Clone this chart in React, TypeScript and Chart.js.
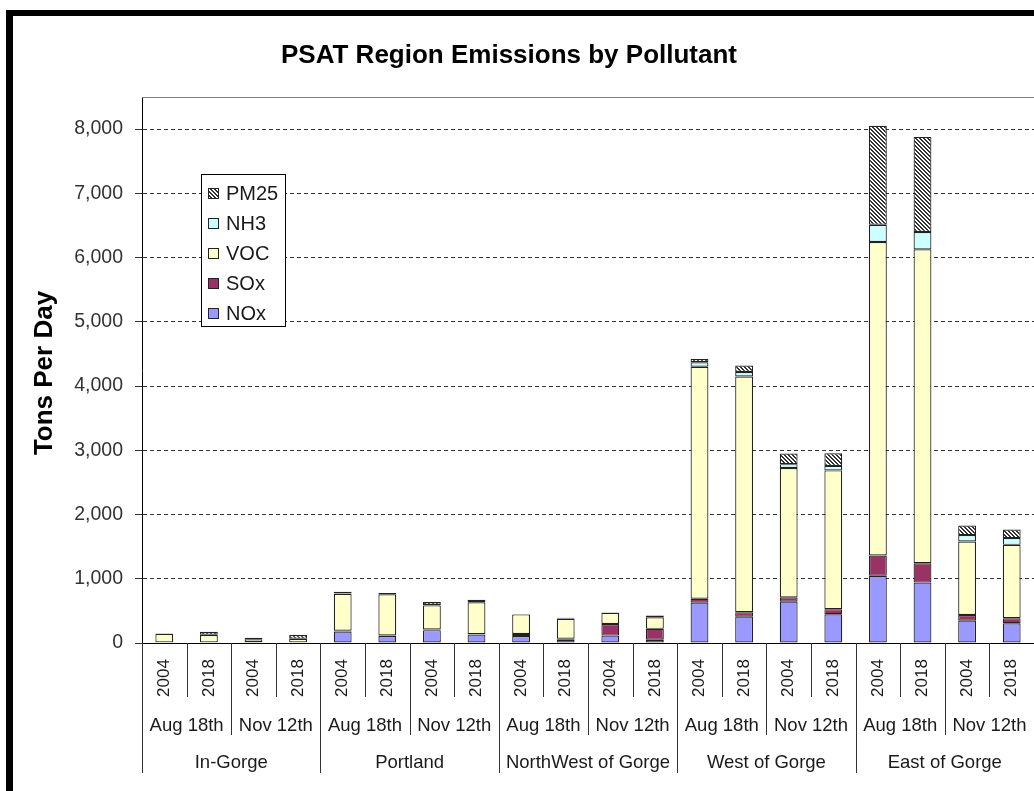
import React, { useEffect, useRef } from 'react';
import { Chart, registerables } from 'chart.js';

Chart.register(...registerables);

const regions = ['In-Gorge', 'Portland', 'NorthWest of Gorge', 'West of Gorge', 'East of Gorge'];
const dates = ['Aug 18th', 'Nov 12th'];
const years = ['2004', '2018'];

const seriesNames = ['NOx', 'SOx', 'VOC', 'NH3', 'PM25'];

const NOx = [8, 8, 10, 8, 180, 110, 200, 130, 110, 50, 115, 50, 628, 410, 644, 447, 1045, 940, 348, 307];
const SOx = [2, 2, 3, 2, 10, 8, 10, 8, 30, 15, 180, 170, 62, 70, 67, 80, 317, 301, 88, 78];
const VOC = [135, 115, 45, 55, 575, 640, 375, 495, 305, 310, 175, 180, 3610, 3668, 2013, 2160, 4880, 4887, 1144, 1143];
const NH3 = [2, 5, 5, 3, 8, 5, 8, 5, 3, 5, 3, 5, 70, 71, 60, 70, 270, 270, 100, 105];
const PM25 = [3, 45, 20, 55, 25, 15, 45, 35, 5, 15, 5, 25, 50, 100, 166, 197, 1539, 1481, 150, 135];

const yTicks = [0, 1000, 2000, 3000, 4000, 5000, 6000, 7000, 8000];

const FONT = "'Liberation Sans', Arial, sans-serif";

const categories: { region: string; date: string; year: string; key: string }[] = [];
regions.forEach((r) =>
  dates.forEach((d) =>
    years.forEach((y) => categories.push({ region: r, date: d, year: y, key: `${r}|${d}|${y}` }))
  )
);

function makeHatch(): CanvasPattern | string {
  const c = document.createElement('canvas');
  c.width = 4;
  c.height = 4;
  const g = c.getContext('2d');
  if (!g) return '#999';
  g.fillStyle = '#ffffff';
  g.fillRect(0, 0, 4, 4);
  g.fillStyle = '#333333';
  for (let i = 0; i < 4; i++) {
    g.fillRect(i, i, 1, 1);
    g.fillRect((i + 1) % 4, i, 1, 1);
  }
  const p = g.createPattern(c, 'repeat');
  return p || '#999';
}

const extrasPlugin = {
  id: 'extras',
  afterDraw(chart: any) {
    const { ctx, chartArea: a } = chart;
    const xs = chart.scales.x;
    const n = categories.length;
    const w = (xs.right - xs.left) / n;
    const axisY = a.bottom;
    ctx.save();

    // plot area top border
    ctx.strokeStyle = '#808080';
    ctx.lineWidth = 1;
    ctx.beginPath();
    ctx.moveTo(a.left, Math.round(a.top) + 0.5);
    ctx.lineTo(a.right, Math.round(a.top) + 0.5);
    ctx.stroke();

    // category separators
    ctx.strokeStyle = '#333';
    const perRegion = dates.length * years.length;
    for (let k = 0; k <= n; k++) {
      const xx = Math.round(xs.left + k * w) + 0.5;
      const len = k % perRegion === 0 ? 130 : k % years.length === 0 ? 92 : 54;
      ctx.beginPath();
      ctx.moveTo(xx, axisY);
      ctx.lineTo(xx, axisY + len);
      ctx.stroke();
    }

    ctx.fillStyle = '#1a1a1a';
    ctx.font = `17px ${FONT}`;
    // years (rotated)
    categories.forEach((c, i) => {
      const px = xs.getPixelForValue(i);
      ctx.save();
      ctx.translate(px, axisY + 35);
      ctx.rotate(-Math.PI / 2);
      ctx.textAlign = 'center';
      ctx.textBaseline = 'middle';
      ctx.fillText(c.year, 0, 0);
      ctx.restore();
    });

    // dates and regions
    ctx.font = `18.5px ${FONT}`;
    ctx.textAlign = 'center';
    ctx.textBaseline = 'alphabetic';
    let idx = 0;
    regions.forEach((r) => {
      const rStart = idx;
      dates.forEach((d) => {
        const s = idx;
        const e = idx + years.length - 1;
        const cx = (xs.getPixelForValue(s) + xs.getPixelForValue(e)) / 2;
        ctx.fillText(d, cx, axisY + 88);
        idx += years.length;
      });
      const cx = (xs.getPixelForValue(rStart) + xs.getPixelForValue(idx - 1)) / 2;
      ctx.fillText(r, cx, axisY + 125);
    });

    // y axis title
    ctx.save();
    ctx.translate(a.left - 97, (a.top + a.bottom) / 2 + 3);
    ctx.rotate(-Math.PI / 2);
    ctx.font = `bold 26px ${FONT}`;
    ctx.fillStyle = '#000';
    ctx.textAlign = 'center';
    ctx.textBaseline = 'middle';
    ctx.fillText('Tons Per Day', 0, 0);
    ctx.restore();

    // legend
    const lx = a.left + 59;
    const ly = a.top + 77;
    const lw = 84;
    const lh = 152;
    ctx.fillStyle = '#fff';
    ctx.fillRect(lx, ly, lw, lh);
    ctx.strokeStyle = '#000';
    ctx.lineWidth = 1;
    ctx.strokeRect(lx + 0.5, ly + 0.5, lw, lh);
    const ds = chart.data.datasets.slice().reverse();
    ds.forEach((d: any, i: number) => {
      const cy = ly + 19 + i * 30;
      ctx.fillStyle = d.backgroundColor;
      ctx.fillRect(lx + 7, cy - 5, 11, 11);
      ctx.strokeStyle = '#222';
      ctx.strokeRect(lx + 7.5, cy - 4.5, 10, 10);
      ctx.fillStyle = '#1a1a1a';
      ctx.font = `20px ${FONT}`;
      ctx.textAlign = 'left';
      ctx.textBaseline = 'middle';
      ctx.fillText(d.label, lx + 25, cy + 1);
    });

    ctx.restore();
  },
};

export default function App() {
  const ref = useRef<HTMLCanvasElement>(null);

  useEffect(() => {
    if (!ref.current) return;
    const hatch = makeHatch();
    const values = [NOx, SOx, VOC, NH3, PM25];
    const colors: any[] = ['#9999FF', '#993366', '#FFFFCC', '#CCFFFF', hatch];
    const chart = new Chart(ref.current, {
      type: 'bar',
      data: {
        labels: categories.map((c) => c.key),
        datasets: seriesNames.map((name, i) => ({
          label: name,
          data: values[i],
          backgroundColor: colors[i],
          borderColor: '#222',
          borderWidth: 1.2,
          borderSkipped: false,
          categoryPercentage: 1,
          barPercentage: 0.4,
        })),
      },
      options: {
        responsive: false,
        animation: false,
        events: [],
        layout: { padding: { top: 81, left: 0, right: 0, bottom: 0 } },
        plugins: {
          legend: { display: false },
          title: { display: false },
          tooltip: { enabled: false },
        },
        scales: {
          x: {
            stacked: true,
            ticks: { display: false },
            grid: { display: false },
            border: { display: true, color: '#000', width: 1 },
            afterFit: (s: any) => {
              s.height = 148;
            },
          },
          y: {
            stacked: true,
            min: 0,
            max: 8500,
            afterBuildTicks: (s: any) => {
              s.ticks = yTicks.map((v) => ({ value: v }));
            },
            ticks: {
              padding: 12,
              color: '#333',
              font: { family: FONT, size: 19.5 },
              callback: (v: any) => Number(v).toLocaleString('en-US'),
            },
            grid: {
              color: '#333',
              lineWidth: 1,
              drawTicks: true,
              tickLength: 7,
              tickColor: '#333',
              tickBorderDash: [],
            },
            border: { display: true, color: '#000', width: 1, dash: [4, 3] },
            afterFit: (s: any) => {
              s.width = 129;
            },
          },
        },
      },
      plugins: [extrasPlugin],
    });
    return () => chart.destroy();
  }, []);

  return (
    <div
      style={{
        position: 'fixed',
        left: 6,
        top: 10,
        right: 0,
        bottom: 0,
        borderLeft: '7px solid #000',
        borderTop: '6px solid #000',
        background: '#fff',
        overflow: 'hidden',
      }}
    >
      <canvas
        ref={ref}
        width={1021}
        height={775}
        style={{ position: 'absolute', left: 0, top: 0, width: 1021, height: 775 }}
      />
      <div
        style={{
          position: 'absolute',
          left: 0,
          top: 25,
          width: 992,
          textAlign: 'center',
          font: `bold 26px ${FONT}`,
          lineHeight: '26px',
          color: '#000',
        }}
      >
        PSAT Region Emissions by Pollutant
      </div>
    </div>
  );
}
